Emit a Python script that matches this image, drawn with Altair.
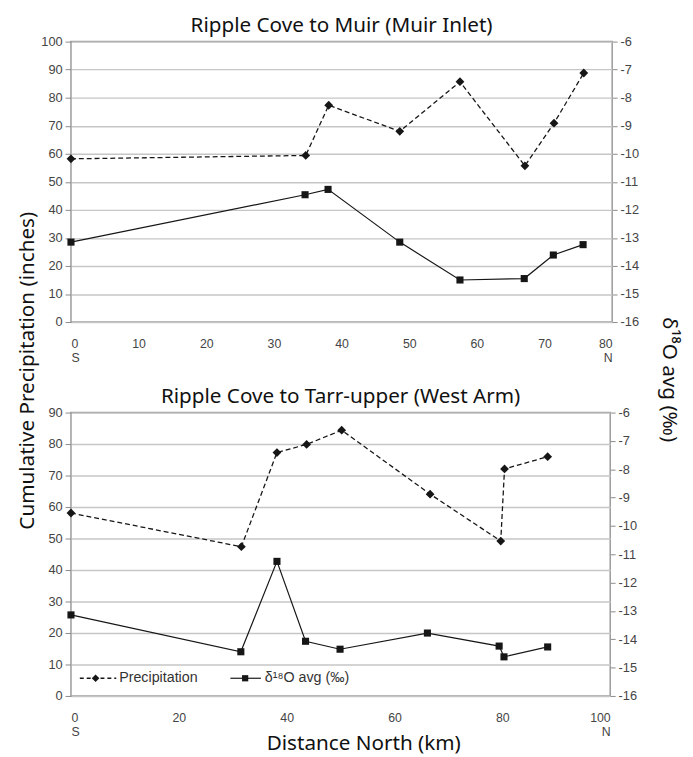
import altair as alt
import pandas as pd

# ---- data ----
# Panel 1: Ripple Cove to Muir (Muir Inlet)
muir_precip_km = [0, 34.7, 38.1, 48.6, 57.5, 67.1, 71.4, 75.8]
muir_precip = [58.2, 59.4, 77.3, 68.0, 85.7, 55.7, 70.9, 88.8]
muir_d18o_km = [0, 34.6, 38.0, 48.6, 57.5, 67.0, 71.3, 75.7]
muir_d18o = [-13.15, -11.46, -11.27, -13.15, -14.50, -14.45, -13.61, -13.24]

# Panel 2: Ripple Cove to Tarr-upper (West Arm)
tarr_precip_km = [0, 31.6, 38.2, 43.7, 50.2, 66.6, 79.7, 80.4, 88.4]
tarr_precip = [58.1, 47.4, 77.3, 79.9, 84.4, 64.1, 49.2, 72.1, 76.0]
tarr_d18o_km = [0, 31.5, 38.2, 43.5, 49.9, 66.1, 79.4, 80.3, 88.4]
tarr_d18o = [-13.14, -14.44, -11.25, -14.07, -14.35, -13.78, -14.24, -14.62, -14.27]

panel_titles = ["Ripple Cove to Muir (Muir Inlet)", "Ripple Cove to Tarr-upper (West Arm)"]
y_left_title = "Cumulative Precipitation (inches)"
y_right_title = "δ¹⁸O avg (‰)"
x_title = "Distance North (km)"
legend_labels = ["Precipitation", "δ¹⁸O avg (‰)"]

LABEL_FONT = "Liberation Sans"
TITLE_FONT = "Noto Sans"
TITLE_SIZE = 21
INK = "#161616"
GRID = "#c6c6c6"


def panel(pkm, pv, okm, ov, title, xmax, xstep, ymax, w, h, top):
    dp = pd.DataFrame({"km": pkm, "v": pv})
    do = pd.DataFrame({"km": okm, "v": ov})

    xticks = list(range(0, xmax + 1, xstep))
    xaxis_kw = dict(
        values=xticks,
        labelExpr=f"datum.value == 0 ? ['0','S'] : datum.value == {xmax} ? ['{xmax}','N'] : datum.label",
        ticks=False, domain=False, grid=False,
        labelPadding=16, labelLineHeight=14, labelFontSize=12.5,
    )
    if not top:
        xaxis_kw.update(
            titleX=297, titleY=48, titleAlign="center", titleBaseline="middle",
            titleFont=TITLE_FONT, titleFontSize=TITLE_SIZE, titleFontWeight="normal", titleColor="#111",
        )
    x = alt.X("km:Q", scale=alt.Scale(domain=[0, xmax], nice=False, zero=False),
              axis=alt.Axis(**xaxis_kw), title=(None if top else x_title))

    yl_kw = dict(values=list(range(0, ymax + 1, 10)), grid=True, gridColor=GRID, gridWidth=1.4,
                 domain=False, tickColor="#8a8a8a", tickSize=6, labelPadding=3, orient="left")
    yr_kw = dict(values=list(range(-16, -5)), grid=False, domain=False, tickColor="#8a8a8a",
                 tickSize=5, labelPadding=3, orient="right", labelExpr="'' + datum.value")
    if top:
        yl_kw.update(titleX=-44, titleY=334, titleAngle=-90, titleAlign="center", titleBaseline="middle",
                     titleFont=TITLE_FONT, titleFontSize=TITLE_SIZE, titleFontWeight="normal", titleColor="#111")
        yr_kw.update(titleX=57, titleY=343, titleAngle=90, titleAlign="center", titleBaseline="middle",
                     titleFont=TITLE_FONT, titleFontSize=TITLE_SIZE, titleFontWeight="normal", titleColor="#111")
    yl = alt.Y("v:Q", scale=alt.Scale(domain=[0, ymax], nice=False), axis=alt.Axis(**yl_kw),
               title=(y_left_title if top else None))
    yr = alt.Y("v:Q", scale=alt.Scale(domain=[-16, -6], nice=False, zero=False), axis=alt.Axis(**yr_kw),
               title=(y_right_title if top else None))

    p_line = alt.Chart(dp).mark_line(color=INK, strokeWidth=1.3, strokeDash=[5, 3]).encode(x=x, y=yl)
    p_pts = alt.Chart(dp).mark_point(shape="diamond", filled=True, size=80, color=INK, opacity=1).encode(x=x, y=yl)
    o_line = alt.Chart(do).mark_line(color=INK, strokeWidth=1.2).encode(x=x, y=yr)
    o_pts = alt.Chart(do).mark_point(shape="square", filled=True, size=52, color=INK, opacity=1).encode(x=x, y=yr)

    left = alt.layer(p_line, p_pts)
    right = alt.layer(o_line, o_pts)
    layers = [left, right]

    if not top:
        ly = 270
        l1 = pd.DataFrame({"label": [legend_labels[0]]})
        l2 = pd.DataFrame({"label": [legend_labels[1]]})
        leg = alt.layer(
            alt.Chart(l1).mark_rule(color=INK, strokeWidth=1.3, strokeDash=[4, 3]).encode(
                x=alt.value(9), x2=alt.value(46), y=alt.value(ly)),
            alt.Chart(l1).mark_point(shape="diamond", filled=True, size=60, color=INK, opacity=1).encode(
                x=alt.value(25), y=alt.value(ly)),
            alt.Chart(l1).mark_text(align="left", baseline="middle", font=LABEL_FONT, fontSize=14.5,
                                    color="#333").encode(x=alt.value(49), y=alt.value(ly), text="label:N"),
            alt.Chart(l2).mark_rule(color=INK, strokeWidth=1.2).encode(
                x=alt.value(162), x2=alt.value(193), y=alt.value(ly)),
            alt.Chart(l2).mark_point(shape="square", filled=True, size=40, color=INK, opacity=1).encode(
                x=alt.value(177), y=alt.value(ly)),
            alt.Chart(l2).mark_text(align="left", baseline="middle", font=LABEL_FONT, fontSize=14.5,
                                    color="#333").encode(x=alt.value(197), y=alt.value(ly), text="label:N"),
        )
        layers.append(leg)

    return alt.layer(*layers).resolve_scale(y="independent").properties(
        width=w, height=h,
        title=alt.Title(title, font=TITLE_FONT, fontSize=TITLE_SIZE, fontWeight="normal", color="#111", offset=0),
    )


top = panel(muir_precip_km, muir_precip, muir_d18o_km, muir_d18o, panel_titles[0], 80, 10, 100, 550, 285, True)
bottom = panel(tarr_precip_km, tarr_precip, tarr_d18o_km, tarr_d18o, panel_titles[1], 100, 20, 90, 548, 288, False)

chart = alt.vconcat(top, bottom, spacing=92, bounds="flush").configure_view(
    stroke="#9a9a9a", strokeWidth=1.5
).configure_axis(
    labelFont=LABEL_FONT, labelFontSize=13, labelColor="#444"
).properties(background="white", padding={"left": 8, "top": 0, "right": 5, "bottom": 5})

chart.save("out.html", embed_options={"renderer": "svg", "actions": False})
